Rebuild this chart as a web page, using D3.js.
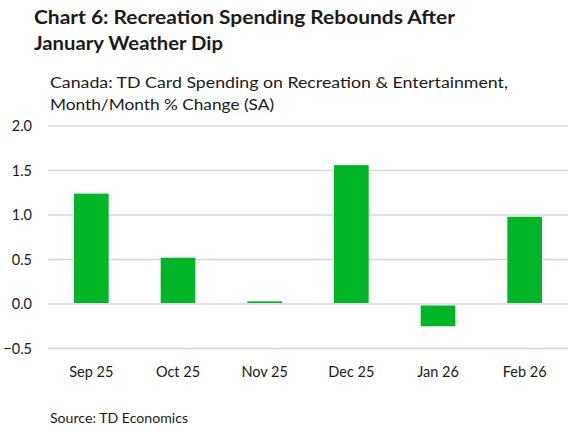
<!DOCTYPE html>
<html>
<head>
<meta charset="utf-8">
<script src="https://d3js.org/d3.v7.min.js"></script>
<style>
  body { margin: 0; background: #fff; }
  text { font-family: Lato, "Open Sans", sans-serif; fill: #1a1a1a; }
</style>
</head>
<body>
<div id="chart"></div>
<script>
var months = ["Sep 25", "Oct 25", "Nov 25", "Dec 25", "Jan 26", "Feb 26"];
var changes = [1.24, 0.52, 0.03, 1.56, -0.25, 0.98];
var yTicks = [-0.5, 0.0, 0.5, 1.0, 1.5, 2.0];

var W = 579, H = 432;
var margin = { top: 126, right: 11, bottom: 84, left: 48 };

var svg = d3.select("#chart").append("svg")
    .attr("width", W)
    .attr("height", H);

var x = d3.scaleBand()
    .domain(months)
    .range([margin.left, W - margin.right])
    .paddingInner(0.6)
    .paddingOuter(0.3);

var y = d3.scaleLinear()
    .domain([-0.5, 2.0])
    .range([H - margin.bottom + 0.5, margin.top]);

// gridlines
svg.append("g")
    .selectAll("line")
    .data(yTicks)
    .join("line")
    .attr("x1", margin.left)
    .attr("x2", W - margin.right)
    .attr("y1", function(d) { return y(d); })
    .attr("y2", function(d) { return y(d); })
    .style("stroke", "#d8d7dc")
    .style("stroke-width", 1.6);

// y labels
svg.append("g")
    .selectAll("text")
    .data(yTicks)
    .join("text")
    .attr("x", 32)
    .attr("y", function(d) { return y(d) + 5; })
    .attr("text-anchor", "end")
    .style("font-size", "14.5px")
    .text(function(d) { return d3.format(".1f")(d); });

// bars
svg.append("g")
    .selectAll("rect")
    .data(changes)
    .join("rect")
    .attr("x", function(d, i) { return x(months[i]); })
    .attr("width", x.bandwidth())
    .attr("y", function(d) { return d >= 0 ? y(d) : y(0) + 1.5; })
    .attr("height", function(d) { return d >= 0 ? y(0) - y(d) - 1 : y(d) - y(0) - 1.5; })
    .style("fill", "#00b526");

// x labels
svg.append("g")
    .selectAll("text")
    .data(months)
    .join("text")
    .attr("x", function(d) { return x(d) + x.bandwidth() / 2; })
    .attr("y", 377)
    .attr("text-anchor", "middle")
    .style("font-size", "14.5px")
    .text(function(d) { return d; });

function fitText(sel, len) {
    sel.attr("textLength", len).attr("lengthAdjust", "spacingAndGlyphs");
}

svg.append("text")
    .attr("x", 34).attr("y", 24)
    .style("font-size", "18px").style("font-weight", "bold")
    .text("Chart 6: Recreation Spending Rebounds After")
    .call(fitText, 421);
svg.append("text")
    .attr("x", 34).attr("y", 50)
    .style("font-size", "18px").style("font-weight", "bold")
    .text("January Weather Dip")
    .call(fitText, 189);

svg.append("text")
    .attr("x", 50).attr("y", 88)
    .style("font-size", "15.5px")
    .text("Canada: TD Card Spending on Recreation & Entertainment,")
    .call(fitText, 458);
svg.append("text")
    .attr("x", 50).attr("y", 110)
    .style("font-size", "15.5px")
    .text("Month/Month % Change (SA)")
    .call(fitText, 224);

svg.append("text")
    .attr("x", 50).attr("y", 423)
    .style("font-size", "13px")
    .text("Source: TD Economics")
    .call(fitText, 138);
</script>
</body>
</html>
